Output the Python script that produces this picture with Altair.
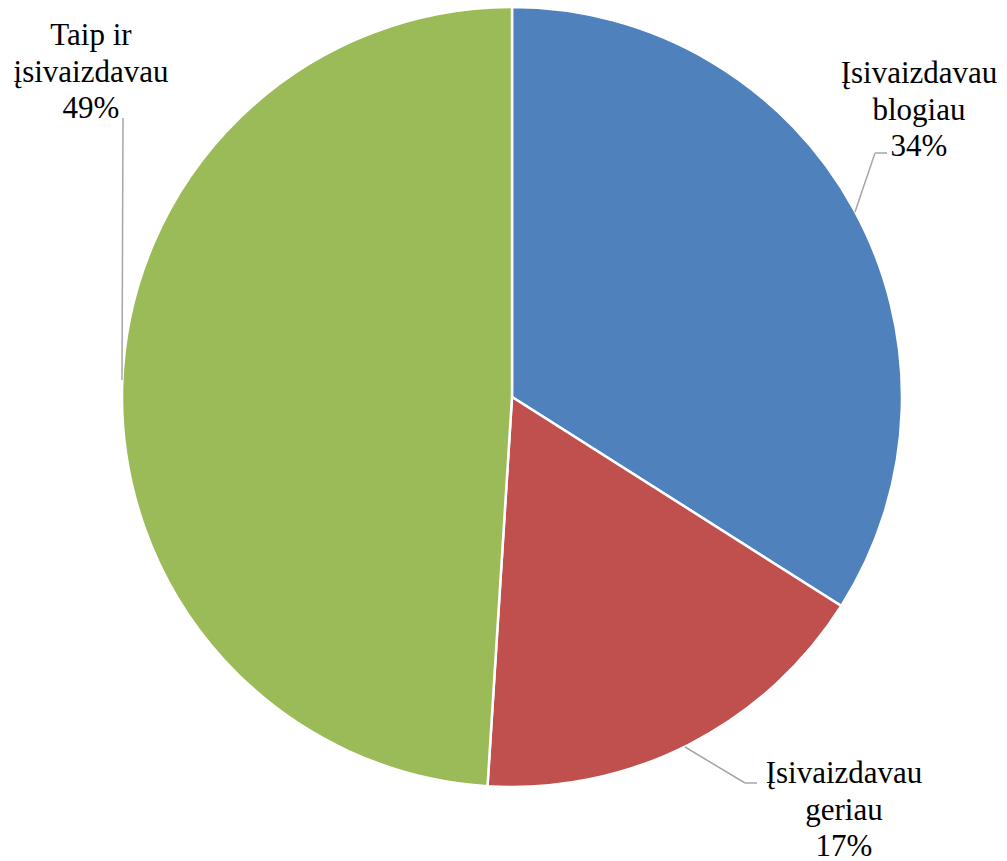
import altair as alt
import pandas as pd

categories = ["Įsivaizdavau blogiau", "Įsivaizdavau geriau", "Taip ir įsivaizdavau"]
label_lines = [["Įsivaizdavau", "blogiau"], ["Įsivaizdavau", "geriau"], ["Taip ir", "įsivaizdavau"]]
values = [34, 17, 49]
colors = ["#4F81BD", "#C0504D", "#9BBB59"]

df = pd.DataFrame({
    "category": categories,
    "value": values,
    "order": list(range(len(categories))),
    "label": ["\n".join(l + [f"{v}%"]) for l, v in zip(label_lines, values)],
})

CX, CY, R = 504, 389, 390
FONT = "'Liberation Serif', 'Times New Roman', serif"
FS = 31
LH = 36.5
LINE_COLOR = "#A6A6A6"

base = alt.Chart(df)

pie = base.mark_arc(outerRadius=R, stroke="white", strokeWidth=2.5).encode(
    theta=alt.Theta("value:Q", stack=True),
    color=alt.Color("category:N", scale=alt.Scale(domain=categories, range=colors), legend=None),
    order=alt.Order("order:Q"),
    x=alt.value(CX),
    y=alt.value(CY),
)

# label anchor positions (style constants)
label_pos = {
    categories[0]: (911, 75),
    categories[1]: (836, 775),
    categories[2]: (83, 37),
}

layers = [pie]

# leader line segments (style constants)
segments = [
    ((879, 145), (867, 145)),
    ((867, 145), (847, 204)),
    ((677, 739), (737, 775)),
    ((737, 775), (749, 775)),
    ((115, 110), (114, 372)),
]
dummy = alt.Chart(pd.DataFrame({"k": [0]}))
for (x1, y1), (x2, y2) in segments:
    layers.append(
        dummy.mark_rule(color=LINE_COLOR, strokeWidth=1.5).encode(
            x=alt.value(x1), y=alt.value(y1), x2=alt.value(x2), y2=alt.value(y2)
        )
    )

for cat, (lx, ly) in label_pos.items():
    layers.append(
        base.transform_filter(alt.datum.category == cat)
        .mark_text(font=FONT, fontSize=FS, lineBreak="\n", lineHeight=LH,
                   align="center", baseline="alphabetic", color="#000000")
        .encode(text="label:N", x=alt.value(lx), y=alt.value(ly))
    )

chart = alt.layer(*layers).properties(
    width=991, height=853, padding=0, autosize=alt.AutoSizeParams(type="none")
).configure_view(stroke=None)

chart.save("out.html", embed_options={"renderer": "svg", "actions": False})
